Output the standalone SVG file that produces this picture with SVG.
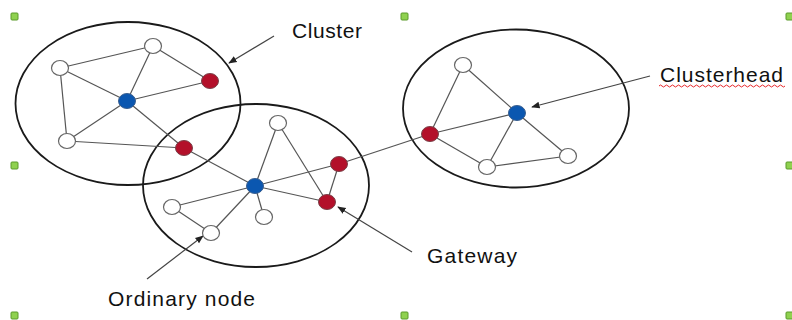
<svg xmlns="http://www.w3.org/2000/svg" width="792" height="320" viewBox="0 0 792 320">
  <style>
    .cluster { fill: none; stroke: #1a1a1a; stroke-width: 1.8; }
    .edge { stroke: #555; stroke-width: 1.2; fill: none; }
    .pointer { stroke: #444; stroke-width: 1.2; fill: none; marker-end: url(#head); }
    .ordinary { fill: #ffffff; stroke: #666; stroke-width: 1.2; }
    .head { fill: #0b57b0; stroke: #3a5f8f; stroke-width: 1; }
    .gate { fill: #b3102a; stroke: #7a4048; stroke-width: 1; }
    .label { font-family: "Liberation Sans", Arial, sans-serif; font-size: 21px; fill: #111; }
    .handle { fill: #8fd14f; stroke: #5a9a2a; stroke-width: 1; }
  </style>
  <defs>
    <marker id="head" viewBox="0 0 10 10" refX="9" refY="5" markerWidth="7" markerHeight="7" orient="auto">
      <path d="M0,1 L10,5 L0,9 z" fill="#222"/>
    </marker>
  </defs>

  <rect width="792" height="320" fill="#ffffff"/>

  <!-- selection handles -->
  <g id="handles">
    <rect class="handle" x="11" y="13" width="7" height="7" rx="1"/>
    <rect class="handle" x="11" y="162" width="7" height="7" rx="1"/>
    <rect class="handle" x="11" y="312" width="7" height="7" rx="1"/>
    <rect class="handle" x="401" y="13" width="7" height="7" rx="1"/>
    <rect class="handle" x="401" y="312" width="7" height="7" rx="1"/>
    <rect class="handle" x="786" y="13" width="7" height="7" rx="1"/>
    <rect class="handle" x="786" y="162" width="7" height="7" rx="1"/>
    <rect class="handle" x="786" y="312" width="7" height="7" rx="1"/>
  </g>

  <!-- cluster boundaries -->
  <g id="clusters">
    <ellipse id="cluster-left" class="cluster" cx="128" cy="103.5" rx="112.5" ry="81.5"/>
    <ellipse id="cluster-middle" class="cluster" cx="256" cy="185.5" rx="113" ry="81.5"/>
    <ellipse id="cluster-right" class="cluster" cx="516" cy="108.5" rx="113" ry="79"/>
  </g>

  <!-- links between nodes and label pointers -->
  <g id="connectors">
    <!-- left cluster -->
    <line class="edge" x1="127" y1="101" x2="60" y2="68"/>
    <line class="edge" x1="127" y1="101" x2="153" y2="46"/>
    <line class="edge" x1="127" y1="101" x2="210" y2="81"/>
    <line class="edge" x1="127" y1="101" x2="67" y2="141"/>
    <line class="edge" x1="127" y1="101" x2="184" y2="148"/>
    <line class="edge" x1="60" y1="68" x2="153" y2="46"/>
    <line class="edge" x1="153" y1="46" x2="210" y2="81"/>
    <line class="edge" x1="60" y1="68" x2="67" y2="141"/>
    <line class="edge" x1="67" y1="141" x2="184" y2="148"/>
    <!-- inter-cluster -->
    <line class="edge" x1="184" y1="148" x2="255" y2="186"/>
    <line class="edge" x1="339" y1="164" x2="430" y2="134"/>
    <!-- middle cluster -->
    <line class="edge" x1="255" y1="186" x2="278" y2="123"/>
    <line class="edge" x1="255" y1="186" x2="339" y2="164"/>
    <line class="edge" x1="255" y1="186" x2="327" y2="202"/>
    <line class="edge" x1="255" y1="186" x2="172" y2="207"/>
    <line class="edge" x1="255" y1="186" x2="264" y2="217"/>
    <line class="edge" x1="255" y1="186" x2="211" y2="233"/>
    <line class="edge" x1="278" y1="123" x2="327" y2="202"/>
    <line class="edge" x1="339" y1="164" x2="327" y2="202"/>
    <line class="edge" x1="172" y1="207" x2="211" y2="233"/>
    <!-- right cluster -->
    <line class="edge" x1="517" y1="113" x2="463" y2="65"/>
    <line class="edge" x1="517" y1="113" x2="430" y2="134"/>
    <line class="edge" x1="517" y1="113" x2="487" y2="167"/>
    <line class="edge" x1="517" y1="113" x2="568" y2="156"/>
    <line class="edge" x1="463" y1="65" x2="430" y2="134"/>
    <line class="edge" x1="430" y1="134" x2="487" y2="167"/>
    <line class="edge" x1="487" y1="167" x2="568" y2="156"/>
    <!-- label pointers -->
    <line class="pointer" x1="274" y1="36" x2="229" y2="63"/>
    <line class="pointer" x1="650" y1="76" x2="532" y2="107"/>
    <line class="pointer" x1="412" y1="252" x2="338" y2="207"/>
    <line class="pointer" x1="147" y1="279" x2="203" y2="236"/>
  </g>

  <!-- left cluster nodes -->
  <g id="n-left-head"><ellipse class="head" cx="127" cy="101" rx="8.5" ry="7.5"/></g>
  <g id="n-left-a"><ellipse class="ordinary" cx="60" cy="68" rx="8.5" ry="7.5"/></g>
  <g id="n-left-b"><ellipse class="ordinary" cx="153" cy="46" rx="8.5" ry="7.5"/></g>
  <g id="n-left-c"><ellipse class="ordinary" cx="67" cy="141" rx="8.5" ry="7.5"/></g>
  <g id="n-left-gw1"><ellipse class="gate" cx="210" cy="81" rx="8.5" ry="7.5"/></g>
  <g id="n-left-gw2"><ellipse class="gate" cx="184" cy="148" rx="8.5" ry="7.5"/></g>

  <!-- middle cluster nodes -->
  <g id="n-mid-head"><ellipse class="head" cx="255" cy="186" rx="8.5" ry="7.5"/></g>
  <g id="n-mid-a"><ellipse class="ordinary" cx="278" cy="123" rx="8.5" ry="7.5"/></g>
  <g id="n-mid-b"><ellipse class="ordinary" cx="172" cy="207" rx="8.5" ry="7.5"/></g>
  <g id="n-mid-c"><ellipse class="ordinary" cx="264" cy="217" rx="8.5" ry="7.5"/></g>
  <g id="n-mid-d"><ellipse class="ordinary" cx="211" cy="233" rx="8.5" ry="7.5"/></g>
  <g id="n-mid-gw1"><ellipse class="gate" cx="339" cy="164" rx="8.5" ry="7.5"/></g>
  <g id="n-mid-gw2"><ellipse class="gate" cx="327" cy="202" rx="8.5" ry="7.5"/></g>

  <!-- right cluster nodes -->
  <g id="n-right-head"><ellipse class="head" cx="517" cy="113" rx="8.5" ry="7.5"/></g>
  <g id="n-right-a"><ellipse class="ordinary" cx="463" cy="65" rx="8.5" ry="7.5"/></g>
  <g id="n-right-b"><ellipse class="ordinary" cx="487" cy="167" rx="8.5" ry="7.5"/></g>
  <g id="n-right-c"><ellipse class="ordinary" cx="568" cy="156" rx="8.5" ry="7.5"/></g>
  <g id="n-right-gw"><ellipse class="gate" cx="430" cy="134" rx="8.5" ry="7.5"/></g>

  <!-- labels -->
  <g id="label-cluster"><text class="label" x="292" y="38" textLength="70" lengthAdjust="spacing">Cluster</text></g>
  <g id="label-clusterhead">
    <text class="label" x="660" y="82" textLength="123" lengthAdjust="spacing">Clusterhead</text>
    <path d="M659,86 q1.5,-2 3,0 t3,0 t3,0 t3,0 t3,0 t3,0 t3,0 t3,0 t3,0 t3,0 t3,0 t3,0 t3,0 t3,0 t3,0 t3,0 t3,0 t3,0 t3,0 t3,0 t3,0 t3,0 t3,0 t3,0 t3,0 t3,0 t3,0 t3,0 t3,0 t3,0 t3,0 t3,0 t3,0 t3,0 t3,0 t3,0 t3,0 t3,0 t3,0 t3,0 t3,0 t3,0" fill="none" stroke="#e8262a" stroke-width="1"/>
  </g>
  <g id="label-gateway"><text class="label" x="427" y="263" textLength="90" lengthAdjust="spacing">Gateway</text></g>
  <g id="label-ordinary"><text class="label" x="108" y="306" textLength="147" lengthAdjust="spacing">Ordinary node</text></g>
</svg>
